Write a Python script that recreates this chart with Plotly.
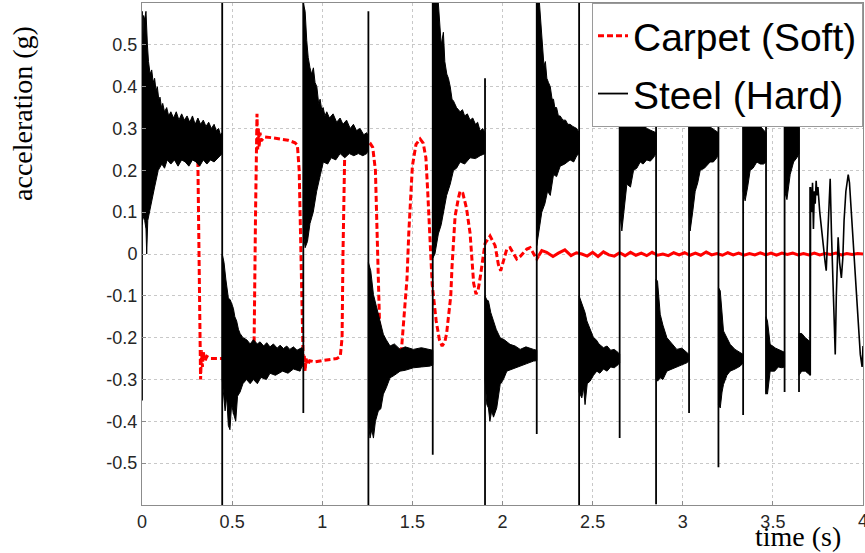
import plotly.graph_objects as go

# ---------------- data ----------------
# Carpet (Soft): dashed part
carpet_t = [0.0, 0.30, 0.31, 0.318, 0.325, 0.33, 0.335, 0.34, 0.35, 0.36, 0.38, 0.45, 0.55, 0.61, 0.622,
            0.63, 0.638, 0.642, 0.646, 0.65, 0.655, 0.66, 0.68, 0.72, 0.766, 0.81, 0.849, 0.862, 0.872,
            0.882, 0.89, 0.895, 0.90, 0.905, 0.91, 0.92, 0.93, 0.96, 1.0, 1.05, 1.08, 1.10, 1.11, 1.115,
            1.12, 1.125, 1.14, 1.2, 1.25, 1.265, 1.28, 1.295, 1.305, 1.312, 1.32, 1.33, 1.36, 1.40, 1.43,
            1.44, 1.455, 1.47, 1.48, 1.49, 1.50, 1.52, 1.543, 1.56, 1.575, 1.585, 1.595, 1.605, 1.61,
            1.632, 1.65, 1.665, 1.68, 1.69, 1.70, 1.713, 1.72, 1.737, 1.756, 1.765, 1.78, 1.80, 1.82,
            1.829, 1.84, 1.853, 1.865, 1.875, 1.885, 1.903, 1.931, 1.959, 1.977, 1.99, 2.005, 2.024,
            2.042, 2.06, 2.079, 2.10, 2.135, 2.153, 2.172, 2.19, 2.2]
carpet_v = [0.265, 0.265, 0.22, -0.05, -0.30, -0.23, -0.27, -0.235, -0.255, -0.245, -0.25, -0.25, -0.25,
            -0.24, -0.21, 0.10, 0.335, 0.25, 0.30, 0.255, 0.29, 0.27, 0.28, 0.278, 0.275, 0.272, 0.266,
            0.26, 0.2, 0.0, -0.2, -0.27, -0.24, -0.28, -0.25, -0.265, -0.255, -0.258, -0.255, -0.252,
            -0.25, -0.245, -0.2, 0.0, 0.2, 0.25, 0.26, 0.265, 0.27, 0.265, 0.255, 0.2, 0.05, -0.1, -0.2,
            -0.23, -0.235, -0.235, -0.23, -0.225, -0.15, -0.06, 0.05, 0.15, 0.21, 0.262, 0.275, 0.265,
            0.23, 0.15, 0.05, -0.04, -0.073, -0.16, -0.205, -0.22, -0.21, -0.19, -0.15, -0.1, -0.03,
            0.09, 0.135, 0.15, 0.145, 0.11, 0.05, -0.01, -0.07, -0.096, -0.085, -0.06, -0.03, 0.025,
            0.043, 0.02, -0.025, -0.04, -0.017, 0.012, 0.015, 0.0, -0.012, -0.005, 0.012, 0.015, 0.0,
            -0.012, -0.005]
# Carpet (Soft): settled, nearly flat part
carpet_tail_t = [2.2, 2.218, 2.245, 2.28, 2.31, 2.346, 2.38, 2.41, 2.44, 2.47, 2.50, 2.53, 2.56, 2.59,
                 2.62, 2.65, 2.68, 2.71, 2.74, 2.77, 2.80, 2.83, 2.86, 2.89, 2.92, 2.95, 2.98, 3.01,
                 3.04, 3.07, 3.10, 3.13, 3.16, 3.19, 3.22, 3.25, 3.28, 3.31, 3.34, 3.37, 3.40, 3.43,
                 3.46, 3.49, 3.52, 3.55, 3.58, 3.61, 3.64, 3.67, 3.70, 3.73, 3.76, 3.79, 3.82, 3.85,
                 3.88, 3.91, 3.94, 3.97, 4.0]
carpet_tail_v = [-0.005, 0.008, 0.004, -0.006, 0.002, 0.010, -0.004, 0.003, 0.0, -0.005, 0.004, -0.006,
                 0.005, -0.002, -0.005, 0.003, -0.004, 0.004, -0.003, 0.002, -0.004, 0.004, -0.003,
                 0.0, -0.004, 0.003, -0.002, 0.003, -0.003, 0.002, -0.003, 0.005, -0.002, 0.001,
                 -0.003, 0.003, -0.002, 0.002, -0.003, 0.001, -0.002, 0.003, -0.002, 0.002, -0.003,
                 0.002, -0.001, 0.002, -0.002, 0.001, -0.002, 0.002, -0.002, 0.001, -0.001, 0.002,
                 -0.002, 0.001, -0.001, 0.001, 0.0]

# Steel (Hard): oscillating bands between impacts (upper / lower envelopes)
band_hi_t = [
    [0.0, 0.004, 0.008, 0.014, 0.022, 0.03, 0.036, 0.045, 0.054, 0.062, 0.07, 0.078, 0.085, 0.093, 0.1, 0.108,
     0.115, 0.125, 0.137, 0.148, 0.16, 0.175, 0.19, 0.205, 0.22, 0.235, 0.25, 0.265, 0.28, 0.295, 0.31,
     0.325, 0.34, 0.355, 0.37, 0.385, 0.40, 0.412, 0.425, 0.435, 0.445],
    [0.445, 0.455, 0.465, 0.479, 0.49, 0.507, 0.515, 0.525, 0.535, 0.544, 0.56, 0.581, 0.6, 0.618, 0.64,
     0.655, 0.675, 0.692, 0.71, 0.729, 0.75, 0.766, 0.785, 0.803, 0.82, 0.84, 0.86, 0.886, 0.895],
    [0.895, 0.905, 0.914, 0.922, 0.932, 0.941, 0.951, 0.96, 0.97, 0.98, 0.988, 0.997, 1.005, 1.015, 1.025,
     1.04, 1.06, 1.08, 1.099, 1.115, 1.135, 1.155, 1.173, 1.19, 1.21, 1.23, 1.247, 1.256],
    [1.256, 1.269, 1.284, 1.298, 1.311, 1.325, 1.339, 1.355, 1.376, 1.40, 1.432, 1.46, 1.506, 1.55, 1.598, 1.613],
    [1.613, 1.625, 1.644, 1.66, 1.672, 1.68, 1.691, 1.70, 1.71, 1.72, 1.728, 1.745, 1.765, 1.778, 1.79,
     1.805, 1.82, 1.835, 1.85, 1.862, 1.876, 1.89, 1.903],
    [1.903, 1.913, 1.922, 1.935, 1.95, 1.965, 1.987, 2.01, 2.042, 2.07, 2.098, 2.13, 2.172, 2.19],
    [2.19, 2.199, 2.205, 2.218, 2.23, 2.238, 2.246, 2.255, 2.265, 2.275, 2.283, 2.29, 2.30, 2.31, 2.32,
     2.335, 2.35, 2.362, 2.375, 2.39, 2.412, 2.425],
    [2.425, 2.44, 2.458, 2.468, 2.486, 2.505, 2.52, 2.535, 2.56, 2.58, 2.60, 2.62, 2.643, 2.65],
    [2.65, 2.70, 2.75, 2.80, 2.852],
    [2.852, 2.86, 2.875, 2.89, 2.912, 2.94, 2.967, 2.995, 3.023, 3.035],
    [3.035, 3.08, 3.13, 3.198],
    [3.198, 3.208, 3.226, 3.245, 3.263, 3.29, 3.319, 3.335],
    [3.335, 3.38, 3.42, 3.462],
    [3.462, 3.47, 3.485, 3.515, 3.55, 3.565],
    [3.565, 3.60, 3.645],
    [3.645, 3.66, 3.68, 3.707],
]
band_hi_v = [
    [0.42, 0.55, 0.57, 0.56, 0.58, 0.50, 0.46, 0.43, 0.44, 0.41, 0.42, 0.39, 0.40, 0.37, 0.375, 0.35,
     0.36, 0.34, 0.35, 0.33, 0.34, 0.325, 0.34, 0.32, 0.335, 0.32, 0.33, 0.315, 0.33, 0.31, 0.325,
     0.31, 0.32, 0.305, 0.315, 0.30, 0.31, 0.295, 0.30, 0.285, 0.29],
    [0.0, -0.02, -0.06, -0.105, -0.11, -0.13, -0.15, -0.16, -0.18, -0.19, -0.2, -0.205, -0.215, -0.205,
     -0.215, -0.21, -0.22, -0.212, -0.222, -0.215, -0.225, -0.218, -0.226, -0.22, -0.228, -0.222, -0.23,
     -0.224, -0.23],
    [0.60, 0.58, 0.51, 0.47, 0.445, 0.43, 0.445, 0.41, 0.40, 0.36, 0.37, 0.345, 0.35, 0.33, 0.34,
     0.325, 0.335, 0.315, 0.325, 0.31, 0.32, 0.30, 0.31, 0.295, 0.30, 0.285, 0.29, 0.28],
    [-0.02, -0.04, -0.097, -0.12, -0.144, -0.17, -0.192, -0.205, -0.22, -0.215, -0.228, -0.222, -0.228,
     -0.224, -0.228, -0.23],
    [0.62, 0.62, 0.60, 0.50, 0.53, 0.46, 0.43, 0.42, 0.40, 0.37, 0.366, 0.35, 0.34, 0.345, 0.33,
     0.335, 0.32, 0.325, 0.31, 0.315, 0.294, 0.30, 0.29],
    [-0.10, -0.11, -0.112, -0.14, -0.16, -0.18, -0.2, -0.205, -0.216, -0.22, -0.228, -0.222, -0.228, -0.23],
    [0.62, 0.62, 0.60, 0.52, 0.45, 0.46, 0.42, 0.41, 0.40, 0.37, 0.37, 0.35, 0.35, 0.33, 0.33,
     0.32, 0.32, 0.31, 0.31, 0.305, 0.30, 0.29],
    [-0.10, -0.12, -0.14, -0.16, -0.18, -0.2, -0.205, -0.215, -0.224, -0.22, -0.23, -0.228, -0.236, -0.24],
    [0.5, 0.4, 0.33, 0.30, 0.29],
    [-0.06, -0.065, -0.144, -0.17, -0.2, -0.215, -0.228, -0.225, -0.236, -0.24],
    [0.5, 0.36, 0.31, 0.29],
    [-0.08, -0.088, -0.184, -0.2, -0.216, -0.228, -0.236, -0.24],
    [0.45, 0.34, 0.31, 0.29],
    [-0.15, -0.16, -0.216, -0.225, -0.232, -0.235],
    [0.40, 0.33, 0.30],
    [-0.19, -0.19, -0.20, -0.21],
]
band_lo_t = [
    [0.0, 0.006, 0.015, 0.022, 0.026, 0.032, 0.045, 0.055, 0.07, 0.09, 0.11, 0.125, 0.14, 0.16, 0.18,
     0.2, 0.22, 0.24, 0.26, 0.28, 0.3, 0.32, 0.34, 0.36, 0.38, 0.40, 0.42, 0.445],
    [0.445, 0.461, 0.47, 0.479, 0.488, 0.497, 0.507, 0.52, 0.53, 0.544, 0.56, 0.58, 0.6, 0.618, 0.64,
     0.66, 0.69, 0.71, 0.74, 0.78, 0.81, 0.84, 0.877, 0.895],
    [0.895, 0.905, 0.918, 0.932, 0.95, 0.969, 0.99, 1.006, 1.03, 1.05, 1.075, 1.099, 1.125, 1.15, 1.175,
     1.2, 1.225, 1.247, 1.256],
    [1.256, 1.265, 1.275, 1.284, 1.295, 1.311, 1.325, 1.339, 1.355, 1.376, 1.40, 1.432, 1.46, 1.506,
     1.55, 1.598, 1.613],
    [1.613, 1.625, 1.644, 1.66, 1.672, 1.69, 1.71, 1.728, 1.745, 1.765, 1.79, 1.82, 1.85, 1.876, 1.903],
    [1.903, 1.913, 1.922, 1.93, 1.94, 1.95, 1.968, 1.987, 2.005, 2.024, 2.06, 2.098, 2.135, 2.172, 2.19],
    [2.19, 2.199, 2.218, 2.235, 2.25, 2.265, 2.283, 2.30, 2.32, 2.345, 2.375, 2.395, 2.412, 2.425],
    [2.425, 2.44, 2.45, 2.458, 2.47, 2.486, 2.505, 2.523, 2.54, 2.56, 2.58, 2.60, 2.62, 2.643, 2.65],
    [2.65, 2.662, 2.675, 2.69, 2.71, 2.727, 2.745, 2.764, 2.78, 2.80, 2.82, 2.837, 2.852],
    [2.852, 2.86, 2.875, 2.89, 2.912, 2.94, 2.967, 2.995, 3.023, 3.035],
    [3.035, 3.041, 3.055, 3.069, 3.083, 3.097, 3.12, 3.152, 3.17, 3.189, 3.198],
    [3.198, 3.208, 3.218, 3.226, 3.245, 3.263, 3.29, 3.319, 3.335],
    [3.335, 3.346, 3.36, 3.374, 3.39, 3.411, 3.43, 3.448, 3.462],
    [3.462, 3.47, 3.485, 3.51, 3.53, 3.55, 3.565],
    [3.565, 3.578, 3.596, 3.615, 3.633, 3.645],
    [3.645, 3.66, 3.68, 3.707],
]
band_lo_v = [
    [0.07, 0.09, 0.08, 0.06, 0.0, 0.08, 0.11, 0.13, 0.16, 0.20, 0.215, 0.205, 0.225, 0.215, 0.225,
     0.21, 0.225, 0.22, 0.21, 0.225, 0.22, 0.21, 0.225, 0.215, 0.225, 0.22, 0.23, 0.24],
    [-0.30, -0.375, -0.34, -0.41, -0.42, -0.36, -0.38, -0.40, -0.34, -0.33, -0.31, -0.30, -0.31, -0.30,
     -0.31, -0.295, -0.30, -0.285, -0.29, -0.28, -0.285, -0.275, -0.28, -0.26],
    [0.05, 0.015, 0.03, 0.073, 0.10, 0.15, 0.19, 0.22, 0.215, 0.23, 0.225, 0.24, 0.23, 0.24, 0.235,
     0.24, 0.235, 0.24, 0.25],
    [-0.40, -0.44, -0.42, -0.44, -0.40, -0.375, -0.37, -0.335, -0.32, -0.296, -0.29, -0.28, -0.278,
     -0.272, -0.27, -0.268, -0.265],
    [-0.01, 0.0, 0.048, 0.07, 0.10, 0.14, 0.167, 0.20, 0.205, 0.22, 0.215, 0.23, 0.228, 0.235, 0.24],
    [-0.30, -0.36, -0.368, -0.40, -0.375, -0.39, -0.368, -0.312, -0.30, -0.28, -0.275, -0.268, -0.262, -0.256, -0.255],
    [0.02, 0.05, 0.10, 0.12, 0.15, 0.14, 0.19, 0.185, 0.21, 0.215, 0.225, 0.22, 0.235, 0.24],
    [-0.33, -0.344, -0.32, -0.36, -0.31, -0.304, -0.29, -0.28, -0.285, -0.275, -0.28, -0.27, -0.272, -0.264, -0.26],
    [0.10, 0.055, 0.10, 0.167, 0.16, 0.20, 0.205, 0.22, 0.215, 0.225, 0.222, 0.23, 0.24],
    [-0.30, -0.304, -0.296, -0.30, -0.28, -0.275, -0.27, -0.265, -0.26, -0.255],
    [0.10, 0.055, 0.10, 0.15, 0.17, 0.2, 0.205, 0.22, 0.22, 0.23, 0.24],
    [-0.36, -0.368, -0.33, -0.312, -0.29, -0.28, -0.275, -0.268, -0.26],
    [0.15, 0.127, 0.16, 0.2, 0.205, 0.22, 0.215, 0.215, 0.22],
    [-0.33, -0.335, -0.28, -0.28, -0.27, -0.272, -0.27],
    [0.15, 0.13, 0.19, 0.22, 0.23, 0.24],
    [-0.29, -0.28, -0.28, -0.29],
]

# Steel (Hard): impact spikes (time, low end, high end)
spike_t = [0.0, 0.445, 0.895, 1.256, 1.613, 1.903, 2.19, 2.425, 2.65, 2.852, 3.035, 3.198, 3.335,
           3.462, 3.565, 3.645, 3.707]
spike_lo = [-0.35, -0.7, -0.38, -0.7, -0.48, -0.7, -0.43, -0.7, -0.44, -0.598, -0.38, -0.51, -0.385,
            -0.335, -0.33, -0.33, -0.29]
spike_hi = [0.58, 0.7, 0.7, 0.58, 0.7, 0.42, 0.7, 0.7, 0.6, 0.6, 0.6, 0.6, 0.6, 0.6, 0.6, 0.45, 0.16]

# Steel (Hard): final irregular oscillation
steel_end_t = [3.707, 3.709, 3.715, 3.72, 3.725, 3.73, 3.735, 3.74, 3.745, 3.75, 3.76, 3.77, 3.78,
               3.79, 3.796, 3.80, 3.81, 3.818, 3.825, 3.835, 3.846, 3.852, 3.862, 3.87, 3.88, 3.888,
               3.895, 3.905, 3.918, 3.925, 3.935, 3.945, 3.955, 3.965, 3.975, 3.985, 3.995, 4.0]
steel_end_v = [-0.28, 0.16, 0.10, 0.17, 0.06, 0.15, 0.12, 0.175, 0.14, 0.16, 0.10, 0.05, 0.02, -0.02,
               -0.04, 0.0, 0.10, 0.18, 0.05, -0.12, -0.24, -0.10, 0.04, -0.02, -0.057, -0.01, 0.08,
               0.15, 0.19, 0.17, 0.10, 0.03, -0.05, -0.10, -0.18, -0.24, -0.27, -0.22]

x_ticks = [0, 0.5, 1, 1.5, 2, 2.5, 3, 3.5, 4]
x_tick_text = ["0", "0.5", "1", "1.5", "2", "2.5", "3", "3.5", "4"]
y_ticks = [-0.5, -0.4, -0.3, -0.2, -0.1, 0, 0.1, 0.2, 0.3, 0.4, 0.5]
y_tick_text = ["-0.5", "-0.4", "-0.3", "-0.2", "-0.1", "0", "0.1", "0.2", "0.3", "0.4", "0.5"]

# ---------------- build traces ----------------
band_x, band_y = [], []
for ht, hv, lt, lv in zip(band_hi_t, band_hi_v, band_lo_t, band_lo_v):
    band_x += ht + lt[::-1] + [ht[0], None]
    band_y += hv + lv[::-1] + [hv[0], None]

spike_x, spike_y = [], []
for t, lo, hi in zip(spike_t, spike_lo, spike_hi):
    spike_x += [t, t, None]
    spike_y += [lo, hi, None]

fig = go.Figure()
fig.add_trace(go.Scatter(x=carpet_t, y=carpet_v, mode="lines", name="Carpet (Soft)", legendgroup="c",
                         line=dict(color="#ff0000", width=3, dash="6px,3px")))
fig.add_trace(go.Scatter(x=carpet_tail_t, y=carpet_tail_v, mode="lines", showlegend=False,
                         legendgroup="c", line=dict(color="#ff0000", width=3)))
fig.add_trace(go.Scatter(x=band_x, y=band_y, mode="lines", fill="toself", fillcolor="black",
                         showlegend=False, legendgroup="s", line=dict(color="black", width=1)))
fig.add_trace(go.Scatter(x=spike_x, y=spike_y, mode="lines", name="Steel (Hard)", legendgroup="s",
                         line=dict(color="black", width=1.8)))
fig.add_trace(go.Scatter(x=steel_end_t, y=steel_end_v, mode="lines", showlegend=False,
                         legendgroup="s", line=dict(color="black", width=1.6)))

tick_font = dict(family="Liberation Sans, Arial", size=18, color="#262626")
axis_common = dict(showline=True, linecolor="#8c8c8c", linewidth=1, mirror=True,
                   showgrid=True, gridcolor="#c8c8c8", griddash="dot", gridwidth=1,
                   zeroline=False, ticks="inside", ticklen=4, tickcolor="#8c8c8c",
                   tickfont=tick_font)

# the last x label sits on the page edge, so it is placed as a text at the x=4 tick position
fig.update_xaxes(range=[0, 4], tickvals=x_ticks, ticktext=x_tick_text[:-1] + [""], **axis_common)
fig.update_yaxes(range=[-0.6, 0.6], tickvals=y_ticks, ticktext=y_tick_text, **axis_common)

fig.update_layout(
    width=865, height=553,
    margin=dict(l=142, r=2, t=3, b=48),
    paper_bgcolor="white", plot_bgcolor="white",
    showlegend=True,
    legend=dict(x=1, y=1, xanchor="right", yanchor="top", bgcolor="white",
                bordercolor="#9a9a9a", borderwidth=1, tracegroupgap=4,
                entrywidth=245, entrywidthmode="pixels",
                font=dict(family="Liberation Sans, Arial", size=39, color="black")),
    annotations=[
        dict(text=x_tick_text[-1], xref="x", yref="paper", x=x_ticks[-1], y=0, yshift=-4,
             xanchor="center", yanchor="top", showarrow=False, font=tick_font),
        dict(text="acceleration (g)", xref="paper", yref="paper", x=-0.165, y=0.779,
             xanchor="center", yanchor="middle", textangle=-90, showarrow=False,
             font=dict(family="Liberation Serif, Times New Roman", size=28, color="black")),
        dict(text="time (s)", xref="paper", yref="paper", x=0.91, y=-0.062,
             xanchor="center", yanchor="middle", showarrow=False,
             font=dict(family="Liberation Serif, Times New Roman", size=28, color="black")),
    ],
)

fig.write_html("out.html")
